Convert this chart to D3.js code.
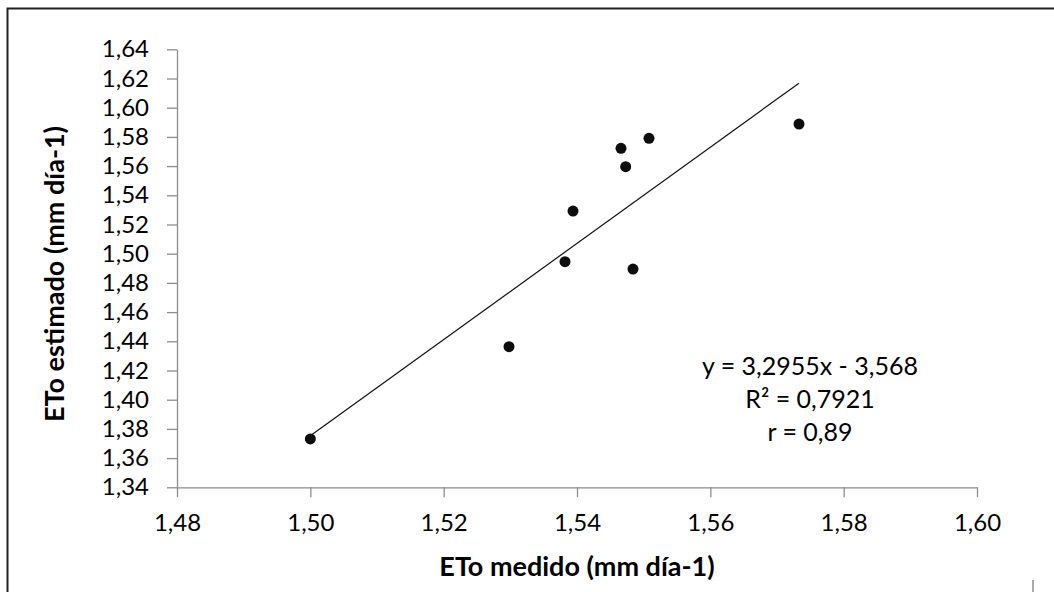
<!DOCTYPE html>
<html>
<head>
<meta charset="utf-8">
<script src="https://cdn.jsdelivr.net/npm/d3@7"></script>
<style>
  body { margin: 0; background: #fff; }
  svg { display: block; font-family: Lato, "Open Sans", sans-serif; }
  .axis path, .axis line { stroke: #8c8c8c; stroke-width: 1.3; }
  .axis text { fill: #000; font-size: 24px; }
  .title { font-weight: bold; font-size: 27px; fill: #000; }
  .eq { font-size: 25px; fill: #000; }
</style>
</head>
<body>
<svg width="1054" height="592"></svg>
<script>
// measured vs estimated ETo (mm dia-1)
var etoMedido   = [1.500, 1.5298, 1.5382, 1.5394, 1.5466, 1.5473, 1.5484, 1.5508, 1.5733];
var etoEstimado = [1.3731, 1.4363, 1.4945, 1.5292, 1.5722, 1.5596, 1.4895, 1.5790, 1.5888];

var xTicks = [1.48, 1.50, 1.52, 1.54, 1.56, 1.58, 1.60];
var yTicks = [1.34, 1.36, 1.38, 1.40, 1.42, 1.44, 1.46, 1.48, 1.50, 1.52, 1.54, 1.56, 1.58, 1.60, 1.62, 1.64];

// trend line reported in the chart
var slope = 3.2955, intercept = -3.568;
var eqLines = ["y = 3,2955x - 3,568", "R\u00b2 = 0,7921", "r = 0,89"];

function main() {
    var svg = d3.select("svg"),
        width = +svg.attr("width"),
        height = +svg.attr("height");

    var locale = d3.formatLocale({ decimal: ",", thousands: ".", grouping: [3], currency: ["", ""] });
    var fmt = locale.format(".2f");

    var x = d3.scaleLinear().domain([1.48, 1.60]).range([177, 977]);
    var y = d3.scaleLinear().domain([1.34, 1.64]).range([487.3, 49.3]);

    // frame (top + left edge of the cropped figure)
    svg.append("path")
        .attr("d", "M7.5," + height + "V8.5H" + width)
        .attr("fill", "none")
        .attr("stroke", "#222")
        .attr("stroke-width", 2);

    svg.append("line")
        .attr("x1", 1033).attr("x2", 1033)
        .attr("y1", 580).attr("y2", height)
        .attr("stroke", "#555").attr("stroke-width", 1);

    svg.append("g")
        .attr("class", "axis")
        .attr("transform", "translate(0," + y(1.34) + ")")
        .call(d3.axisBottom(x).tickValues(xTicks).tickFormat(fmt).tickSize(10).tickPadding(17).tickSizeOuter(0));

    svg.append("g")
        .attr("class", "axis")
        .attr("transform", "translate(" + x(1.48) + ",0)")
        .call(d3.axisLeft(y).tickValues(yTicks).tickFormat(fmt).tickSize(10).tickPadding(18).tickSizeOuter(0));

    svg.selectAll(".axis").attr("font-family", null).attr("font-size", null);

    // trend line across the data range
    var xr = d3.extent(etoMedido);
    svg.append("line")
        .attr("x1", x(xr[0])).attr("y1", y(slope * xr[0] + intercept))
        .attr("x2", x(xr[1])).attr("y2", y(slope * xr[1] + intercept))
        .attr("stroke", "#111")
        .attr("stroke-width", 1.2);

    svg.selectAll(".pt")
        .data(etoMedido)
        .enter().append("circle")
        .attr("class", "pt")
        .attr("cx", function(d) { return x(d); })
        .attr("cy", function(d, i) { return y(etoEstimado[i]); })
        .attr("r", 5.5)
        .attr("fill", "#0d0d0d");

    svg.selectAll(".eq")
        .data(eqLines)
        .enter().append("text")
        .attr("class", "eq")
        .attr("x", 810)
        .attr("y", function(d, i) { return 375 + i * 33; })
        .attr("text-anchor", "middle")
        .text(function(d) { return d; });

    svg.append("text")
        .attr("class", "title")
        .attr("x", 577)
        .attr("y", 576)
        .attr("text-anchor", "middle")
        .text("ETo medido (mm día-1)");

    svg.append("text")
        .attr("class", "title")
        .attr("transform", "translate(64,274) rotate(-90)")
        .attr("text-anchor", "middle")
        .text("ETo estimado (mm día-1)");
}
main();
</script>
</body>
</html>
